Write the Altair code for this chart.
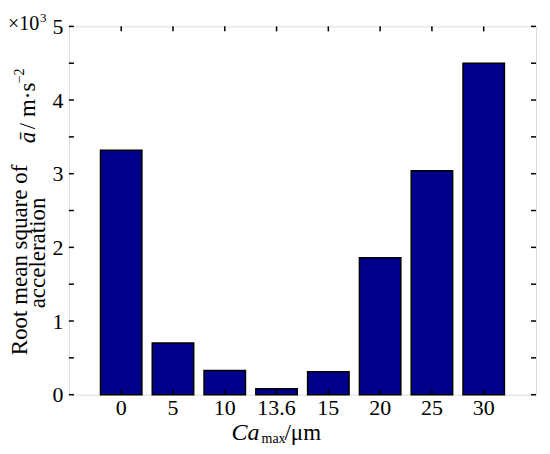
import altair as alt
import pandas as pd

categories = ["0", "5", "10", "13.6", "15", "20", "25", "30"]
values = [3.32, 0.70, 0.33, 0.08, 0.31, 1.86, 3.04, 4.50]
y_ticks = [0, 0.5, 1, 1.5, 2, 2.5, 3, 3.5, 4, 4.5, 5]
y_labels = [0, 1, 2, 3, 4, 5]

W, H = 468, 369
FONT = "Liberation Serif"

df = pd.DataFrame({"cat": categories, "val": values})
ticks_df = pd.DataFrame({"t": y_ticks})

xscale = alt.Scale(domain=categories, paddingInner=0.2, paddingOuter=0.61)
yscale = alt.Scale(domain=[0, 5], nice=False)

bars = alt.Chart(df).mark_bar(color="#00008B", stroke="black", strokeWidth=1.5).encode(
    x=alt.X("cat:N", scale=xscale, sort=categories,
            axis=alt.Axis(title=None, labelAngle=0, ticks=False, domain=False,
                          labelFont=FONT, labelFontSize=22, labelColor="black",
                          labelPadding=3)),
    y=alt.Y("val:Q", scale=yscale,
            axis=alt.Axis(title=None, values=y_labels, format="d", ticks=False,
                          domain=False, grid=False, labelFont=FONT, labelFontSize=22,
                          labelColor="black", labelPadding=6)),
)

tick_style = dict(color="black", strokeWidth=1.5)
yl = alt.Chart(ticks_df).mark_rule(**tick_style).encode(
    y=alt.Y("t:Q", scale=yscale), x=alt.value(0), x2=alt.value(5))
yr = alt.Chart(ticks_df).mark_rule(**tick_style).encode(
    y=alt.Y("t:Q", scale=yscale), x=alt.value(W), x2=alt.value(W - 5))
xt = alt.Chart(df).mark_rule(**tick_style).encode(
    x=alt.X("cat:N", scale=xscale, sort=categories), y=alt.value(0), y2=alt.value(5))
xb = alt.Chart(df).mark_rule(**tick_style).encode(
    x=alt.X("cat:N", scale=xscale, sort=categories), y=alt.value(H), y2=alt.value(H - 5))

def txt(s, x, y, size=23, angle=0, style="normal", align="left", baseline="alphabetic"):
    return alt.Chart(pd.DataFrame({"s": [s]})).mark_text(
        font=FONT, fontSize=size, angle=angle, fontStyle=style, align=align,
        baseline=baseline, color="black").encode(
        text="s:N", x=alt.value(x), y=alt.value(y))

annotations = [
    txt("Root mean square of", -42, 234, angle=270, align="center"),
    txt("acceleration", -24, 227, angle=270, align="center"),
    txt("ā", -34, 117, angle=270, style="italic"),
    txt("/ m·s", -34, 103, angle=270),
    txt("−2", -45, 57, size=14, angle=270),
    txt("×10", -61, 4, size=20),
    txt("3", -29, -4, size=13),
    txt("Ca", 163, 414, size=24, style="italic"),
    txt("max", 193, 417, size=14),
    txt("/μm", 216, 414, size=23),
]

chart = alt.layer(bars, yl, yr, xt, xb, *annotations).properties(
    width=W, height=H,
    autosize=alt.AutoSizeParams(type="none"),
    padding={"left": 61, "top": 18, "right": 6, "bottom": 50},
).configure_view(stroke="black", strokeWidth=1.5).configure(background="white")

chart.save("out.html", embed_options={"renderer": "svg", "actions": False})
